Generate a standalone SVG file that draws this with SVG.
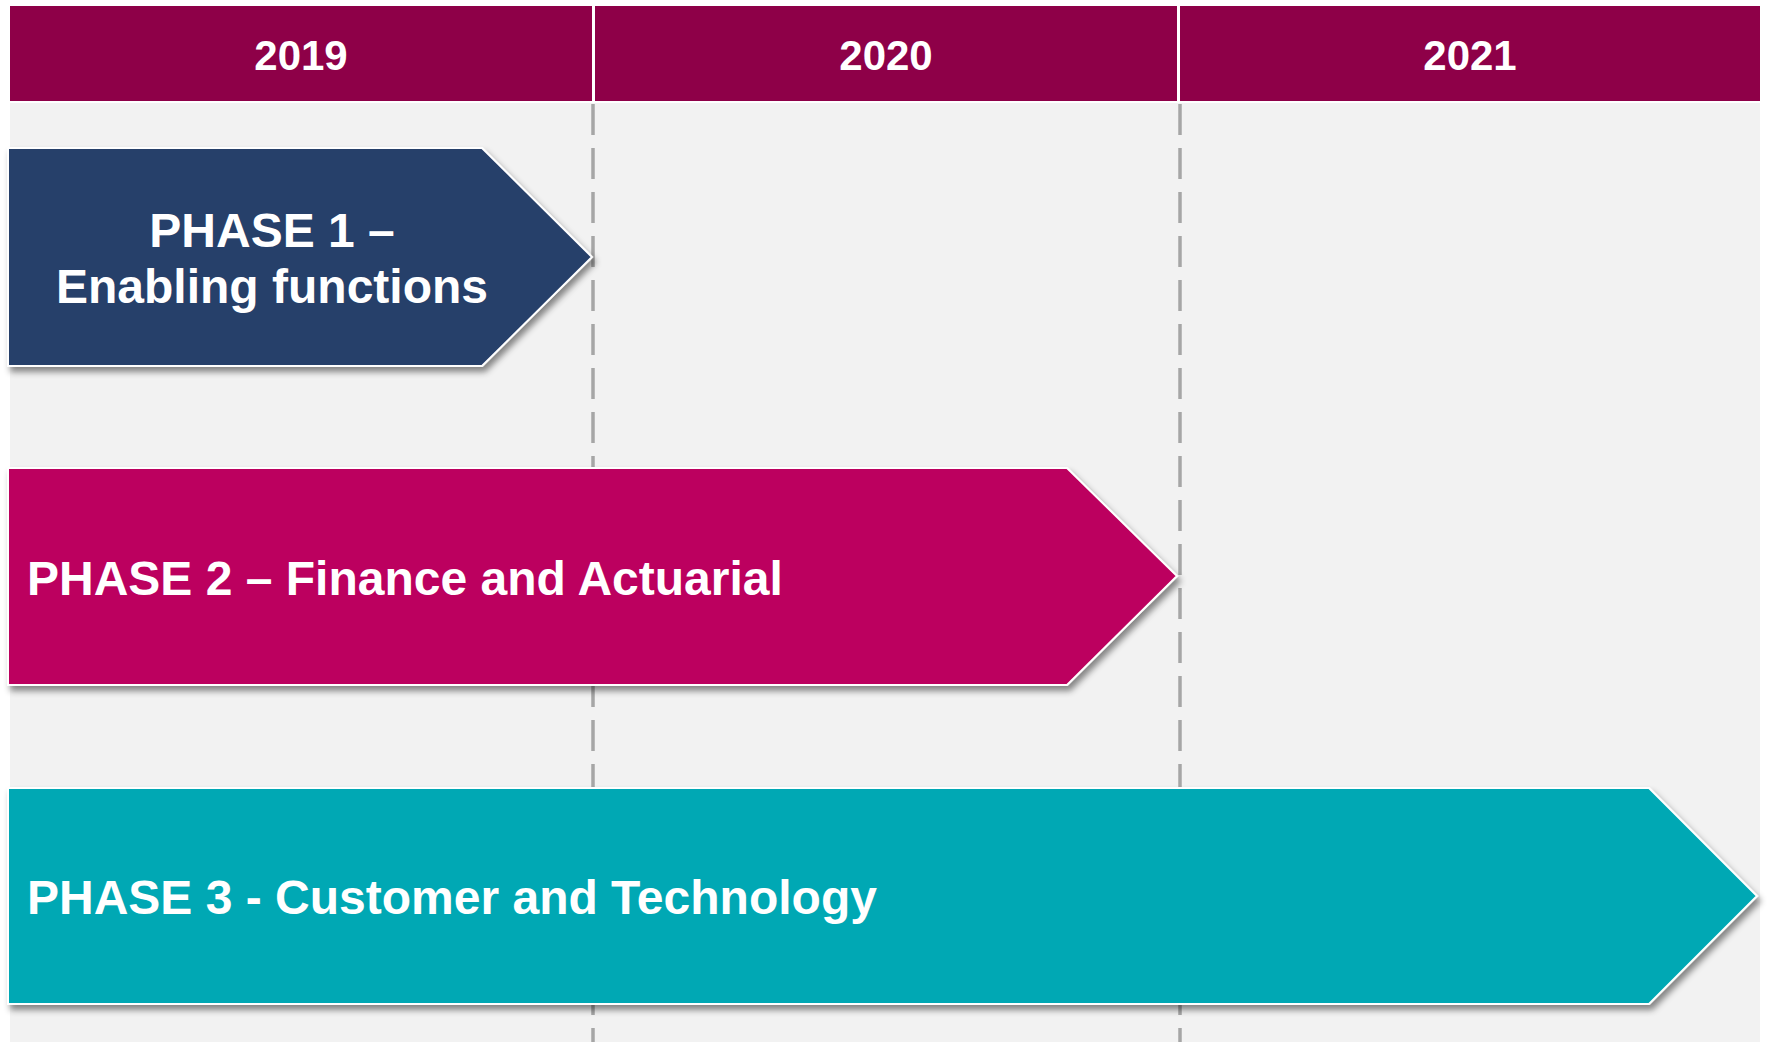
<svg xmlns="http://www.w3.org/2000/svg" width="1767" height="1045" viewBox="0 0 1767 1045">
  <defs>
    <filter id="shadow" x="-5%" y="-10%" width="115%" height="130%">
      <feDropShadow dx="3" dy="5" stdDeviation="3" flood-color="#000" flood-opacity="0.45"/>
    </filter>
    <style>
      .hdr { fill: #8e0048; }
      .year { font-family: "Liberation Sans", Arial, sans-serif; font-weight: bold; font-size: 42px; fill: #ffffff; text-anchor: middle; }
      .lbl { font-family: "Liberation Sans", Arial, sans-serif; font-weight: bold; font-size: 48px; fill: #ffffff; }
      .arrow { stroke: #ffffff; stroke-width: 2; filter: url(#shadow); }
      .dash { stroke: #a6a6a6; stroke-width: 3.5; stroke-dasharray: 31 13; fill: none; }
    </style>
  </defs>
  <rect x="0" y="0" width="1767" height="1045" fill="#ffffff"/>
  <rect x="10" y="103" width="1750" height="939" fill="#f2f2f2"/>

  <g id="header">
    <g id="year-2019">
      <rect class="hdr" x="10" y="6" width="582" height="95"/>
      <text class="year" x="301" y="70">2019</text>
    </g>
    <g id="year-2020">
      <rect class="hdr" x="595" y="6" width="582" height="95"/>
      <text class="year" x="886" y="70">2020</text>
    </g>
    <g id="year-2021">
      <rect class="hdr" x="1180" y="6" width="580" height="95"/>
      <text class="year" x="1470" y="70">2021</text>
    </g>
  </g>

  <g id="connectors">
    <line class="dash" x1="593" y1="104" x2="593" y2="1042"/>
    <line class="dash" x1="1180" y1="104" x2="1180" y2="1042"/>
  </g>

  <g id="phase1">
    <polygon class="arrow" fill="#273f6a" points="8,148 482,148 592,257 482,366 8,366"/>
    <text class="lbl" x="272" y="247" text-anchor="middle">PHASE 1 –</text>
    <text class="lbl" x="272" y="303" text-anchor="middle">Enabling functions</text>
  </g>

  <g id="phase2">
    <polygon class="arrow" fill="#bc005e" points="8,468 1067,468 1177,576 1067,685 8,685"/>
    <text class="lbl" x="27" y="595">PHASE 2 – Finance and Actuarial</text>
  </g>

  <g id="phase3">
    <polygon class="arrow" fill="#00a8b4" points="8,788 1649,788 1757,896 1649,1004 8,1004"/>
    <text class="lbl" x="27" y="914">PHASE 3 - Customer and Technology</text>
  </g>
</svg>
